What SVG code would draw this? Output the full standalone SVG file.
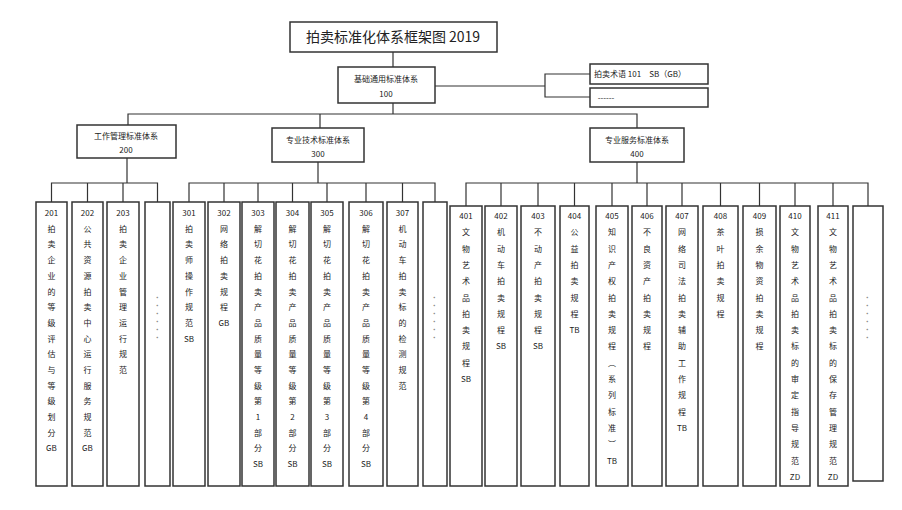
<svg xmlns="http://www.w3.org/2000/svg" width="902" height="510" viewBox="0 0 902 510">
<style>
rect{fill:#fff;stroke:#333;stroke-width:1.5}
.c line,.c path{stroke:#333;stroke-width:1.2;fill:none}
text{font-family:"Noto Sans CJK SC","Liberation Sans",sans-serif;fill:#222;text-anchor:middle}
.s{font-size:8px}
.v{font-size:8px}
.d{font-size:7px;fill:#888;writing-mode:vertical-rl;letter-spacing:1px}
</style>
<rect x="0" y="0" width="902" height="510" style="fill:#fff;stroke:none"/>
<g class="c" id="connectors">
<line x1="393" y1="52" x2="393" y2="67"/>
<line x1="435" y1="86" x2="545" y2="86"/>
<path d="M590 74H545V97H590"/>
<line x1="393" y1="103" x2="393" y2="114"/>
<path d="M128 125V114H637V128M320 114V128"/>
<path d="M127 158V183M51.5 202V183H157.5V202M87.5 183V202M123 183V202"/>
<path d="M318 162V183M189 202V183H435V202M224 183V202M258 183V202M292.5 183V202M327 183V202M366 183V202M402.5 183V202"/>
<path d="M637 162V183M466 206V183H868V206M501 183V206M538 183V206M574.5 183V206M612 183V206M647 183V206M682 183V206M720.5 183V206M759.5 183V206M795 183V206M833 183V206"/>
</g>
<g id="title"><rect x="290" y="22" width="207" height="30"/><text x="393" y="42" font-size="14">拍卖标准化体系框架图 2019</text></g>
<g id="n100"><rect x="338" y="67" width="97" height="36"/><text class="s" x="386" y="82">基础通用标准体系</text><text class="s" x="386" y="97">100</text></g>
<g id="n101"><rect x="590" y="64" width="118" height="20"/><text class="s" x="640" y="77">拍卖术语 101　SB（GB）</text></g>
<g id="n10x"><rect x="590" y="88" width="118" height="19"/><text class="s" x="606" y="101">------</text></g>
<g id="n200"><rect x="77" y="125" width="99" height="33"/><text class="s" x="126" y="139">工作管理标准体系</text><text class="s" x="126" y="153">200</text></g>
<g id="n300"><rect x="272" y="128" width="92" height="34"/><text class="s" x="318" y="143">专业技术标准体系</text><text class="s" x="318" y="157">300</text></g>
<g id="n400"><rect x="590" y="128" width="94" height="34"/><text class="s" x="637" y="143">专业服务标准体系</text><text class="s" x="637" y="157">400</text></g>

<g id="n201"><rect x="36" y="202" width="31" height="284"/><text class="v" x="51.5" y="216"><tspan x="51.5">201</tspan><tspan x="51.5" dy="15.7">拍</tspan><tspan x="51.5" dy="15.7">卖</tspan><tspan x="51.5" dy="15.7">企</tspan><tspan x="51.5" dy="15.7">业</tspan><tspan x="51.5" dy="15.7">的</tspan><tspan x="51.5" dy="15.7">等</tspan><tspan x="51.5" dy="15.7">级</tspan><tspan x="51.5" dy="15.7">评</tspan><tspan x="51.5" dy="15.7">估</tspan><tspan x="51.5" dy="15.7">与</tspan><tspan x="51.5" dy="15.7">等</tspan><tspan x="51.5" dy="15.7">级</tspan><tspan x="51.5" dy="15.7">划</tspan><tspan x="51.5" dy="15.7">分</tspan><tspan x="51.5" dy="15.7">GB</tspan></text></g>
<g id="n202"><rect x="72" y="202" width="31" height="284"/><text class="v" x="87.5" y="216"><tspan x="87.5">202</tspan><tspan x="87.5" dy="15.7">公</tspan><tspan x="87.5" dy="15.7">共</tspan><tspan x="87.5" dy="15.7">资</tspan><tspan x="87.5" dy="15.7">源</tspan><tspan x="87.5" dy="15.7">拍</tspan><tspan x="87.5" dy="15.7">卖</tspan><tspan x="87.5" dy="15.7">中</tspan><tspan x="87.5" dy="15.7">心</tspan><tspan x="87.5" dy="15.7">运</tspan><tspan x="87.5" dy="15.7">行</tspan><tspan x="87.5" dy="15.7">服</tspan><tspan x="87.5" dy="15.7">务</tspan><tspan x="87.5" dy="15.7">规</tspan><tspan x="87.5" dy="15.7">范</tspan><tspan x="87.5" dy="15.7">GB</tspan></text></g>
<g id="n203"><rect x="107" y="202" width="32" height="284"/><text class="v" x="123" y="216"><tspan x="123">203</tspan><tspan x="123" dy="15.7">拍</tspan><tspan x="123" dy="15.7">卖</tspan><tspan x="123" dy="15.7">企</tspan><tspan x="123" dy="15.7">业</tspan><tspan x="123" dy="15.7">管</tspan><tspan x="123" dy="15.7">理</tspan><tspan x="123" dy="15.7">运</tspan><tspan x="123" dy="15.7">行</tspan><tspan x="123" dy="15.7">规</tspan><tspan x="123" dy="15.7">范</tspan></text></g>
<g id="n2x"><rect x="145" y="202" width="25" height="284"/><text class="d" x="157.5" y="318">······</text></g>

<g id="n301"><rect x="173" y="202" width="32" height="284"/><text class="v" x="189" y="216"><tspan x="189">301</tspan><tspan x="189" dy="15.7">拍</tspan><tspan x="189" dy="15.7">卖</tspan><tspan x="189" dy="15.7">师</tspan><tspan x="189" dy="15.7">操</tspan><tspan x="189" dy="15.7">作</tspan><tspan x="189" dy="15.7">规</tspan><tspan x="189" dy="15.7">范</tspan><tspan x="189" dy="15.7">SB</tspan></text></g>
<g id="n302"><rect x="208" y="202" width="32" height="284"/><text class="v" x="224" y="216"><tspan x="224">302</tspan><tspan x="224" dy="15.7">网</tspan><tspan x="224" dy="15.7">络</tspan><tspan x="224" dy="15.7">拍</tspan><tspan x="224" dy="15.7">卖</tspan><tspan x="224" dy="15.7">规</tspan><tspan x="224" dy="15.7">程</tspan><tspan x="224" dy="15.7">GB</tspan></text></g>
<g id="n303"><rect x="242" y="202" width="32" height="284"/><text class="v" x="258" y="216"><tspan x="258">303</tspan><tspan x="258" dy="15.7">解</tspan><tspan x="258" dy="15.7">切</tspan><tspan x="258" dy="15.7">花</tspan><tspan x="258" dy="15.7">拍</tspan><tspan x="258" dy="15.7">卖</tspan><tspan x="258" dy="15.7">产</tspan><tspan x="258" dy="15.7">品</tspan><tspan x="258" dy="15.7">质</tspan><tspan x="258" dy="15.7">量</tspan><tspan x="258" dy="15.7">等</tspan><tspan x="258" dy="15.7">级</tspan><tspan x="258" dy="15.7">第</tspan><tspan x="258" dy="15.7">1</tspan><tspan x="258" dy="15.7">部</tspan><tspan x="258" dy="15.7">分</tspan><tspan x="258" dy="15.7">SB</tspan></text></g>
<g id="n304"><rect x="276" y="202" width="33" height="284"/><text class="v" x="292.5" y="216"><tspan x="292.5">304</tspan><tspan x="292.5" dy="15.7">解</tspan><tspan x="292.5" dy="15.7">切</tspan><tspan x="292.5" dy="15.7">花</tspan><tspan x="292.5" dy="15.7">拍</tspan><tspan x="292.5" dy="15.7">卖</tspan><tspan x="292.5" dy="15.7">产</tspan><tspan x="292.5" dy="15.7">品</tspan><tspan x="292.5" dy="15.7">质</tspan><tspan x="292.5" dy="15.7">量</tspan><tspan x="292.5" dy="15.7">等</tspan><tspan x="292.5" dy="15.7">级</tspan><tspan x="292.5" dy="15.7">第</tspan><tspan x="292.5" dy="15.7">2</tspan><tspan x="292.5" dy="15.7">部</tspan><tspan x="292.5" dy="15.7">分</tspan><tspan x="292.5" dy="15.7">SB</tspan></text></g>
<g id="n305"><rect x="311" y="202" width="32" height="284"/><text class="v" x="327" y="216"><tspan x="327">305</tspan><tspan x="327" dy="15.7">解</tspan><tspan x="327" dy="15.7">切</tspan><tspan x="327" dy="15.7">花</tspan><tspan x="327" dy="15.7">拍</tspan><tspan x="327" dy="15.7">卖</tspan><tspan x="327" dy="15.7">产</tspan><tspan x="327" dy="15.7">品</tspan><tspan x="327" dy="15.7">质</tspan><tspan x="327" dy="15.7">量</tspan><tspan x="327" dy="15.7">等</tspan><tspan x="327" dy="15.7">级</tspan><tspan x="327" dy="15.7">第</tspan><tspan x="327" dy="15.7">3</tspan><tspan x="327" dy="15.7">部</tspan><tspan x="327" dy="15.7">分</tspan><tspan x="327" dy="15.7">SB</tspan></text></g>
<g id="n306"><rect x="349" y="202" width="34" height="284"/><text class="v" x="366" y="216"><tspan x="366">306</tspan><tspan x="366" dy="15.7">解</tspan><tspan x="366" dy="15.7">切</tspan><tspan x="366" dy="15.7">花</tspan><tspan x="366" dy="15.7">拍</tspan><tspan x="366" dy="15.7">卖</tspan><tspan x="366" dy="15.7">产</tspan><tspan x="366" dy="15.7">品</tspan><tspan x="366" dy="15.7">质</tspan><tspan x="366" dy="15.7">量</tspan><tspan x="366" dy="15.7">等</tspan><tspan x="366" dy="15.7">级</tspan><tspan x="366" dy="15.7">第</tspan><tspan x="366" dy="15.7">4</tspan><tspan x="366" dy="15.7">部</tspan><tspan x="366" dy="15.7">分</tspan><tspan x="366" dy="15.7">SB</tspan></text></g>
<g id="n307"><rect x="387" y="202" width="31" height="284"/><text class="v" x="402.5" y="216"><tspan x="402.5">307</tspan><tspan x="402.5" dy="15.7">机</tspan><tspan x="402.5" dy="15.7">动</tspan><tspan x="402.5" dy="15.7">车</tspan><tspan x="402.5" dy="15.7">拍</tspan><tspan x="402.5" dy="15.7">卖</tspan><tspan x="402.5" dy="15.7">标</tspan><tspan x="402.5" dy="15.7">的</tspan><tspan x="402.5" dy="15.7">检</tspan><tspan x="402.5" dy="15.7">测</tspan><tspan x="402.5" dy="15.7">规</tspan><tspan x="402.5" dy="15.7">范</tspan></text></g>
<g id="n3x"><rect x="423" y="202" width="24" height="284"/><text class="d" x="435" y="318">······</text></g>

<g id="n401"><rect x="450" y="206" width="32" height="280"/><text class="v" x="466" y="219"><tspan x="466">401</tspan><tspan x="466" dy="16.3">文</tspan><tspan x="466" dy="16.3">物</tspan><tspan x="466" dy="16.3">艺</tspan><tspan x="466" dy="16.3">术</tspan><tspan x="466" dy="16.3">品</tspan><tspan x="466" dy="16.3">拍</tspan><tspan x="466" dy="16.3">卖</tspan><tspan x="466" dy="16.3">规</tspan><tspan x="466" dy="16.3">程</tspan><tspan x="466" dy="16.3">SB</tspan></text></g>
<g id="n402"><rect x="485" y="206" width="32" height="280"/><text class="v" x="501" y="219"><tspan x="501">402</tspan><tspan x="501" dy="16.3">机</tspan><tspan x="501" dy="16.3">动</tspan><tspan x="501" dy="16.3">车</tspan><tspan x="501" dy="16.3">拍</tspan><tspan x="501" dy="16.3">卖</tspan><tspan x="501" dy="16.3">规</tspan><tspan x="501" dy="16.3">程</tspan><tspan x="501" dy="16.3">SB</tspan></text></g>
<g id="n403"><rect x="521" y="206" width="34" height="280"/><text class="v" x="538" y="219"><tspan x="538">403</tspan><tspan x="538" dy="16.3">不</tspan><tspan x="538" dy="16.3">动</tspan><tspan x="538" dy="16.3">产</tspan><tspan x="538" dy="16.3">拍</tspan><tspan x="538" dy="16.3">卖</tspan><tspan x="538" dy="16.3">规</tspan><tspan x="538" dy="16.3">程</tspan><tspan x="538" dy="16.3">SB</tspan></text></g>
<g id="n404"><rect x="560" y="206" width="29" height="280"/><text class="v" x="574.5" y="219"><tspan x="574.5">404</tspan><tspan x="574.5" dy="16.3">公</tspan><tspan x="574.5" dy="16.3">益</tspan><tspan x="574.5" dy="16.3">拍</tspan><tspan x="574.5" dy="16.3">卖</tspan><tspan x="574.5" dy="16.3">规</tspan><tspan x="574.5" dy="16.3">程</tspan><tspan x="574.5" dy="16.3">TB</tspan></text></g>
<g id="n405"><rect x="596" y="206" width="32" height="280"/><text class="v" x="612" y="219"><tspan x="612">405</tspan><tspan x="612" dy="16.3">知</tspan><tspan x="612" dy="16.3">识</tspan><tspan x="612" dy="16.3">产</tspan><tspan x="612" dy="16.3">权</tspan><tspan x="612" dy="16.3">拍</tspan><tspan x="612" dy="16.3">卖</tspan><tspan x="612" dy="16.3">规</tspan><tspan x="612" dy="16.3">程</tspan><tspan x="612" dy="16.3">︵</tspan><tspan x="612" dy="16.3">系</tspan><tspan x="612" dy="16.3">列</tspan><tspan x="612" dy="16.3">标</tspan><tspan x="612" dy="16.3">准</tspan><tspan x="612" dy="16.3">︶</tspan><tspan x="612" dy="16.3">TB</tspan></text></g>
<g id="n406"><rect x="632" y="206" width="30" height="280"/><text class="v" x="647" y="219"><tspan x="647">406</tspan><tspan x="647" dy="16.3">不</tspan><tspan x="647" dy="16.3">良</tspan><tspan x="647" dy="16.3">资</tspan><tspan x="647" dy="16.3">产</tspan><tspan x="647" dy="16.3">拍</tspan><tspan x="647" dy="16.3">卖</tspan><tspan x="647" dy="16.3">规</tspan><tspan x="647" dy="16.3">程</tspan></text></g>
<g id="n407"><rect x="666" y="206" width="32" height="280"/><text class="v" x="682" y="219"><tspan x="682">407</tspan><tspan x="682" dy="16.3">网</tspan><tspan x="682" dy="16.3">络</tspan><tspan x="682" dy="16.3">司</tspan><tspan x="682" dy="16.3">法</tspan><tspan x="682" dy="16.3">拍</tspan><tspan x="682" dy="16.3">卖</tspan><tspan x="682" dy="16.3">辅</tspan><tspan x="682" dy="16.3">助</tspan><tspan x="682" dy="16.3">工</tspan><tspan x="682" dy="16.3">作</tspan><tspan x="682" dy="16.3">规</tspan><tspan x="682" dy="16.3">程</tspan><tspan x="682" dy="16.3">TB</tspan></text></g>
<g id="n408"><rect x="703" y="206" width="35" height="280"/><text class="v" x="720.5" y="219"><tspan x="720.5">408</tspan><tspan x="720.5" dy="16.3">茶</tspan><tspan x="720.5" dy="16.3">叶</tspan><tspan x="720.5" dy="16.3">拍</tspan><tspan x="720.5" dy="16.3">卖</tspan><tspan x="720.5" dy="16.3">规</tspan><tspan x="720.5" dy="16.3">程</tspan></text></g>
<g id="n409"><rect x="743" y="206" width="33" height="280"/><text class="v" x="759.5" y="219"><tspan x="759.5">409</tspan><tspan x="759.5" dy="16.3">损</tspan><tspan x="759.5" dy="16.3">余</tspan><tspan x="759.5" dy="16.3">物</tspan><tspan x="759.5" dy="16.3">资</tspan><tspan x="759.5" dy="16.3">拍</tspan><tspan x="759.5" dy="16.3">卖</tspan><tspan x="759.5" dy="16.3">规</tspan><tspan x="759.5" dy="16.3">程</tspan></text></g>
<g id="n410"><rect x="780" y="206" width="30" height="280"/><text class="v" x="795" y="219"><tspan x="795">410</tspan><tspan x="795" dy="16.3">文</tspan><tspan x="795" dy="16.3">物</tspan><tspan x="795" dy="16.3">艺</tspan><tspan x="795" dy="16.3">术</tspan><tspan x="795" dy="16.3">品</tspan><tspan x="795" dy="16.3">拍</tspan><tspan x="795" dy="16.3">卖</tspan><tspan x="795" dy="16.3">标</tspan><tspan x="795" dy="16.3">的</tspan><tspan x="795" dy="16.3">审</tspan><tspan x="795" dy="16.3">定</tspan><tspan x="795" dy="16.3">指</tspan><tspan x="795" dy="16.3">导</tspan><tspan x="795" dy="16.3">规</tspan><tspan x="795" dy="16.3">范</tspan><tspan x="795" dy="16.3">ZD</tspan></text></g>
<g id="n411"><rect x="818" y="206" width="30" height="280"/><text class="v" x="833" y="219"><tspan x="833">411</tspan><tspan x="833" dy="16.3">文</tspan><tspan x="833" dy="16.3">物</tspan><tspan x="833" dy="16.3">艺</tspan><tspan x="833" dy="16.3">术</tspan><tspan x="833" dy="16.3">品</tspan><tspan x="833" dy="16.3">拍</tspan><tspan x="833" dy="16.3">卖</tspan><tspan x="833" dy="16.3">标</tspan><tspan x="833" dy="16.3">的</tspan><tspan x="833" dy="16.3">保</tspan><tspan x="833" dy="16.3">存</tspan><tspan x="833" dy="16.3">管</tspan><tspan x="833" dy="16.3">理</tspan><tspan x="833" dy="16.3">规</tspan><tspan x="833" dy="16.3">范</tspan><tspan x="833" dy="16.3">ZD</tspan></text></g>
<g id="n4x"><rect x="853" y="206" width="30" height="275"/><text class="d" x="868" y="318">······</text></g>
</svg>
